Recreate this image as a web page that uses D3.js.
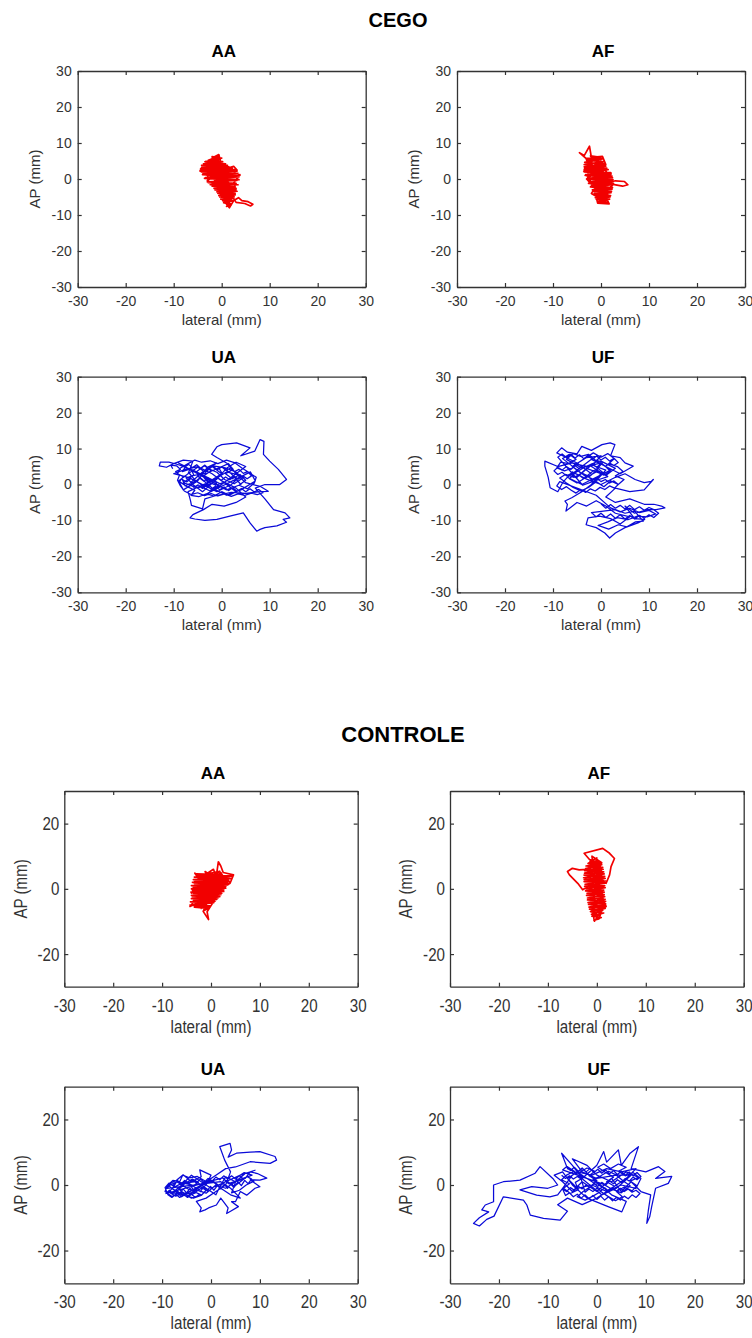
<!DOCTYPE html>
<html>
<head>
<meta charset="utf-8">
<script src="https://cdn.jsdelivr.net/npm/d3@7"></script>
<style>
  body { margin: 0; background: #fff; }
  svg { display: block; }
</style>
</head>
<body>
<svg id="chart" width="752" height="1338"></svg>
<script>
// ---- data (mm) ----
const xTicks = [-30, -20, -10, 0, 10, 20, 30];
const yTicksCego = [-30, -20, -10, 0, 10, 20, 30];
const yTicksControle = [-20, 0, 20];
const groupTitles = ['CEGO', 'CONTROLE'];
const panelTitles = ['AA', 'AF', 'UA', 'UF'];

const cegoAA = [[-1.0,1.0],[-3.5,3.8],[-0.5,5.5],[-3.8,1.5],[0.5,4.0],[-2.5,0.0],[-4.2,3.2],[-1.5,6.2],[-0.6,6.8],[0.2,2.5],[-3.0,-0.5],[-1.0,3.5],[1.5,1.0],[-2.0,-1.5],[0.8,2.8],[2.5,3.5],[3.2,2.5],[1.0,-0.5],[-1.2,-2.5],[1.8,0.5],[3.8,1.2],[2.0,-2.0],[-0.5,-4.0],[1.2,-1.0],[-2.8,1.8],[-4.5,2.2],[-3.2,4.6],[-1.8,2.6],[0.0,-1.2],[2.2,-3.5],[0.2,-5.2],[1.5,-6.5],[2.8,-4.2],[0.8,-3.0],[3.0,-1.2],[1.0,-7.0],[1.6,-8.0],[2.5,-6.0],[3.5,-5.2],[4.2,-6.0],[5.5,-6.3],[6.5,-7.0],[6.0,-7.5],[4.8,-6.8],[3.0,-6.5],[2.2,-4.8],[0.2,-2.2],[-2.2,0.8],[-3.5,2.8],[-1.2,4.8],[0.5,1.5],[-1.5,-0.5],[2.0,1.8],[0.0,3.2],[-2.5,2.0],[-0.8,0.0],[1.2,-2.0],[-0.2,-3.5],[2.5,-2.5],[1.0,-4.5],[0.0,0.5],[-3.0,3.0],[-1.0,1.5],
  [-2,6.2],[0,5.8],[-3.5,4.8],[0.8,4.2],[-4.2,3.8],[1.5,3.4],[-4.4,2.8],[2.8,2.6],[-4.3,2.0],[3.4,1.6],[-4,1.2],[3.6,0.6],[-3.6,0.2],[3.2,-0.4],[-3,-0.8],[3,-1.2],[-2.4,-1.6],[2.8,-2.2],[-1.6,-2.6],[3,-3],[-1,-3.6],[2.8,-4],[-0.6,-4.6],[2.6,-5],[-0.2,-5.6],[2.4,-6],[0.4,-6.6],[2,-7.2],[1,-7.6],[1.8,-6.8],[0.2,-6],[2.2,-5.4],[-0.4,-5],[2.8,-4.4],[-0.8,-4],[3.2,-3.4],[-1.4,-3],[3,-2.6],[-2,-2],[3.4,-1.6],[-2.8,-1.0],[3.6,-0.2],[-3.4,0.4],[3.8,1],[-3.9,1.6],[3.2,2.2],[-4.5,2.4],[2.2,3],[-4,3.4],[1.2,3.8],[-3.8,4.2],[0.2,4.8],[-2.8,5.2],[-0.5,6.4],[-1.5,5.6],[-0.8,3.6],[-2.2,1.5],[0.5,0.2],[-1.8,-0.8],[1.4,-2.4],[0.6,-4.8],[1.6,-1.2],[-0.6,1.8],[-2.6,3.8]];

const cegoAF = [[0,0],[-2,3],[-3.5,2.6],[-2.5,5],[-4.5,7.3],[-3.5,6.5],[-2.4,9.1],[-2,6],[0.3,6.3],[1,4],[-1,2],[-3,0],[-1,-3],[1,-1],[2.1,1.7],[1.5,-1],[3,-0.5],[4.9,-0.7],[5.6,-1.6],[4.5,-2],[2.5,-1.5],[1,-4],[-1,-5],[-0.7,-6.7],[1.7,-6.9],[1,-5],[-1.5,-2],[-3,1],[-1,4],[0.5,2],[-2,-1],[0,-4],[1.5,-3],[-0.5,1],[-2.5,4],[0,5],[1.5,1],[-1,-2],[-2,-4],[0.5,-6],[1.5,-4.5],[-1,0],[-3,3],[-1.5,5.5],[0.5,3.5],[-1,1],
  [-3.2,5.8],[0.3,5.6],[-3.4,4.6],[0.8,4.2],[-3.5,3.4],[1.2,3],[-3.6,2.2],[2,1.8],[-3.2,1.2],[2.3,0.8],[-2.8,0.2],[2.5,-0.2],[-2.4,-0.8],[2.6,-1.2],[-2,-1.8],[2.4,-2.4],[-1.8,-3],[2.2,-3.4],[-1.4,-4],[2,-4.6],[-1.2,-5.2],[1.8,-5.6],[-0.8,-6.2],[1.6,-6.6],[0.2,-6.8],[1.2,-6],[-1,-5.6],[1.9,-5],[-1.3,-4.4],[2.1,-3.8],[-1.6,-3.4],[2.3,-2.8],[-2.2,-2.2],[2.5,-1.6],[-2.6,-1.2],[2.6,-0.6],[-3,0],[2.4,0.4],[-3.3,1],[2.1,1.4],[-3.5,2],[1.5,2.6],[-3.4,3],[1,3.6],[-3.5,4],[0.6,4.8],[-3,5.2],[0,6],[-2.2,6.4],[-1,4.5],[-2,2.5],[0,1],[-1,-1.5],[0.8,-3],[0,-5],[-0.5,-2.5],[1,0.5],[-1.5,3]];

const cegoUA = [[0,0],[-3,2],[-6,4],[-9,5.5],[-11,6.2],[-12.8,6.2],[-13,5.2],[-11.5,4.8],[-10,5.8],[-8,6.8],[-6,6.5],[-7,3],[-9,1],[-8,-1.5],[-5,1],[-3,4.8],[-1,6],[-4,3.5],[-6.5,0.5],[-4,-2],[-1,1.5],[1,4.5],[3,6.2],[5,5],[2,2],[-1,-1],[-3,-2.5],[0,-0.5],[3,1.5],[6,3.5],[7,1],[4,-1.5],[1,-3],[-2,-1],[-5,2.5],[-2,5],[0,3],[-3,0.5],[-7,-2],[-6.5,-4.5],[-6.3,-5.8],[-4,-6.8],[-3.5,-4],[-1.5,-3.2],[2,-2.2],[5,-2.5],[8,-2],[9.7,-1.9],[8,-0.5],[5,0.5],[3,3],[1,6],[-1,7.5],[-2.1,8.4],[-1,10.5],[0,11.1],[3.1,11.6],[5.9,10.2],[4,8],[6.9,9.3],[8,12.5],[8.8,12],[8.7,8.4],[10,6.5],[11.8,4.2],[13.5,1.4],[12.1,0],[9,0],[7,-1],[9,-4],[10.8,-7],[13.2,-7.9],[14.2,-9.3],[12.8,-9.7],[13.5,-10.5],[11.5,-11.5],[9,-12],[8,-12.5],[7.3,-13],[5.9,-10.7],[4.5,-7.9],[1.7,-8.8],[-1,-9.7],[-3.5,-10],[-5.6,-9.6],[-6.6,-9.3],[-6,-8.4],[-3.8,-7],[-2,-5.5],[0.5,-6],[3,-5],[5,-3.5],[3,-1],[0,1],[-2,3],[-5,5],[-8,4],[-10,3],[-7,2],[-4,0],[-1,-2],[2,0],[4,2.5],[1,3.5],[-2,1],[-5,-1],[-8,0.5],[-6,2.5],[-3,3.2],[0,5],[2,3],[4,0],[1,-1.5],
  [-9,6],[-7.5,5],[-8.2,3.6],[-6.4,4.4],[-5.8,2.6],[-7.4,1.8],[-6.2,0.4],[-4.6,1.6],[-5.2,3.6],[-3.6,5.2],[-2.2,3.8],[-3.8,2.4],[-2.6,0.6],[-4,-0.8],[-2.4,-1.8],[-0.8,-0.4],[-1.6,1.6],[0.2,2.8],[-0.6,4.6],[1.4,5.8],[2.4,4.2],[0.8,3],[2.2,1.6],[3.8,2.8],[5,1.2],[3.6,-0.2],[5.4,-1.2],[6.8,0.4],[7.2,2],[5.6,3.4],[4.2,4.6],[2.8,6],[1,6.8],[-0.8,5.8],[-2.4,6.6],[-4.2,6.2],[-5.6,6.8],[-7,5.8],[-8.6,4.6],[-9.2,3],[-8,2.2],[-8.8,0.8],[-7.2,-0.6],[-5.6,-1.6],[-6.4,-3],[-4.8,-3.4],[-3.2,-2.6],[-1.6,-3.2],[0,-2],[1.6,-3],[3,-2],[1.8,-0.8],[0.4,0.6],[-1.2,-0.2],[-3,0.8],[-4.4,3],[-2.8,4.4],[-1,3.4],[0.6,1.4],[2.6,0.2],[4.4,1.8],[2.8,3.6],[0.8,4.6],[-1.8,5.2],[-3.4,3.4],[-5,4.8],[-6.8,3.2],[-5.4,1],[-3.6,-0.6],[-1.4,0.8],
  [-7.8,4.8],[-6.9,5.6],[-6.1,4.7],[-5.2,5.5],[-4.4,4.5],[-3.5,5.4],[-2.7,4.4],[-1.8,5.1],[-0.9,4.1],[0,4.9],[0.9,3.9],[1.8,4.6],[2.7,3.6],[3.6,4.2],[4.5,3.1],[5.4,3.6],[6.2,2.4],[5.3,1.6],[4.4,2.4],[3.5,1.5],[2.6,2.3],[1.7,1.3],[0.8,2.1],[-0.1,1.2],[-1,2],[-1.9,1],[-2.8,1.9],[-3.7,0.9],[-4.6,1.8],[-5.5,0.8],[-6.4,1.7],[-7.3,0.7],[-8.2,1.4],[-7.6,-0.4],[-6.7,0.2],[-5.8,-0.8],[-4.9,-0.1],[-4,-1.1],[-3.1,-0.3],[-2.2,-1.3],[-1.3,-0.5],[-0.4,-1.5],[0.5,-0.7],[1.4,-1.7],[2.3,-0.9],[3.2,-1.9],[4.1,-1.1],[5,-2],[5.9,-1.2],[6.8,-2.1],[7.7,-1.4],[8.6,-2.3],[7.4,-2.8],[6.2,-2.4],[4.8,-3],[3.4,-2.6],[2,-3.3],[0.6,-2.6],[-0.8,-3.2],[-2.2,-2.5],[-3.6,-3.1],[-5,-2.3],[-6.4,-2.8],[-7.8,-1.8],[-8.6,-0.4],[-9.2,1.2],[-8.8,2.6],[-9.6,3.6],[-8.6,4.2],[-9.4,5.2],[-10.6,5.4],[-10.2,4.4]];

const cegoUF = [[-2,3],[-5,6],[-8,8],[-9.2,8.8],[-8.2,10.2],[-7,9],[-5,8.5],[-4,10.6],[-2,9.5],[0.2,11.1],[1.9,11.6],[2.9,11.1],[2,8],[4,7.5],[5,6],[6.7,5.1],[4,3],[1,5],[-2,7],[-5,4],[-7,2],[-4,0],[-1,2],[2,4],[0,6],[-3,5],[-6,6],[-9,5],[-11.7,6.5],[-11.7,5.1],[-11,2],[-10.6,-0.9],[-9,-2],[-8,0.5],[-6,3.5],[-3,1.5],[0,0],[3,2],[5,3],[7.1,1.4],[9,0.5],[10.5,0.9],[10.9,1.4],[9,-1.5],[6,-2],[3,-1],[1,-3.5],[3,-5],[6,-4],[9,-5.5],[11,-5.5],[12.6,-6],[13.3,-6.5],[11.5,-7],[9.8,-7],[7,-8],[5,-6],[7,-9.5],[9.1,-9.7],[7.7,-10.7],[5,-12],[3,-13.5],[1.8,-14.9],[0.8,-13.5],[-1,-12],[-3.1,-11.2],[-2.7,-9.3],[-0.3,-8.8],[2,-9.5],[4,-11],[6,-9],[3,-8],[1,-6],[-1,-4.5],[-3,-6],[-5,-5],[-7.3,-7.4],[-7,-5.5],[-7.5,-4.6],[-6.1,-3.7],[-4,-2],[-2,0],[0,3],[-3,4.5],[-5,2],[-2,5.5],[1,4],[-1,1],[-4,3],[-6,5],[-3,7.5],[0,8],[-2,5],[1,2.5],[3,4.5],[0,6.5],[-1,3.5],[-3,2],
  [-8,7.2],[-6.6,8.4],[-5.2,7],[-6.8,5.8],[-8.4,6.2],[-9.2,4.6],[-7.6,3.8],[-6,4.6],[-4.6,6.2],[-3,7.6],[-1.6,8.8],[0,7.6],[1.4,8.6],[2.8,7.2],[1.6,5.8],[3.4,5],[4.6,3.6],[3,2.4],[4.8,1.4],[3.6,0],[2,1],[0.6,-0.6],[-1,0.8],[-2.6,-0.8],[-4.2,-1.8],[-5.8,-0.8],[-7.2,0.4],[-8.6,1.8],[-7.4,2.8],[-5.6,2],[-4,3.2],[-2.4,2.2],[-1,3.8],[0.6,2.6],[2,3.6],[0.8,5.2],[-0.8,6.4],[-2.4,5.4],[-4,4.6],[-5.6,5.8],[-7.2,7],[-5.8,8.6],[-4.2,7.8],[-2.6,8.4],[-1.2,6.8],[0.4,6.2],[-0.6,4.6],[-2,3.4],[-3.6,1.6],[-5,0.4],[-6.6,1.6],[-5.2,3.4],[-3.4,4.8],[-1.8,5.8],[-0.2,4],[1.4,2.2],[-0.4,1.4],[-2.2,0.6],[-3.8,-0.2],
  [-9,7.6],[-8.1,8.5],[-7.2,7.5],[-6.3,8.4],[-5.4,7.4],[-4.5,8.3],[-3.6,7.2],[-2.7,8.1],[-1.8,7],[-0.9,7.9],[0,6.8],[0.9,7.6],[1.8,6.5],[2.7,7.3],[3.6,6.1],[2.7,5.3],[1.8,6],[0.9,5],[0,5.8],[-0.9,4.8],[-1.8,5.6],[-2.7,4.6],[-3.6,5.4],[-4.5,4.4],[-5.4,5.2],[-6.3,4.2],[-7.2,5],[-8.1,4],[-9,4.8],[-9.8,3.8],[-9,2.8],[-8.1,3.4],[-7.2,2.4],[-6.3,3],[-5.4,2],[-4.5,2.6],[-3.6,1.6],[-2.7,2.2],[-1.8,1.2],[-0.9,1.8],[0,0.8],[0.9,1.4],[1.8,0.4],[2.7,1],[3.6,0],[2.8,-1],[1.8,-0.4],[0.8,-1.4],[-0.2,-0.8],[-1.2,-1.8],[-2.2,-1.2],[-3.2,-2.2],[-4.2,-1.4],[-5.2,-2.4],[-6.2,-1.6],[-7.2,-0.6],[-8.2,-1.4],[-9.2,-0.4],[-8.6,0.8],
  [-1,-3],[2,-6.5],[4,-7.6],[6,-6.6],[8,-7.8],[10,-7.2],[11.4,-8.2],[9.6,-9],[7.6,-8.8],[5.6,-9.8],[3.4,-9.2],[1.4,-10.4],[-0.6,-11.4],[1.6,-12.4],[3.6,-11.2],[5.4,-11.8],[7.2,-10.4],[8.8,-10.2],[7,-7.4],[5,-8],[3,-7],
  [-2,-7.8],[-1,-9],[0,-8],[1,-9.2],[2,-8.2],[3,-9.4],[4,-8.4],[5,-9.6],[6,-8.6],[7,-9.6],[8,-8.6],[9,-9.4],[10,-8.4],[11,-9.2],[12,-8],[11,-7],[10,-6.4],[9,-7.2],[8,-6.2],[7,-7],[6,-5.8],[5,-6.8],[4,-5.8],[3,-6.6],[2,-5.6],[1,-6.6],[0,-5.4]];

const controleAA = [[0,0],[-2,3],[-3.3,4.8],[-2,2],[-4,-1.3],[-1,1],[1,3],[1.5,8.3],[2,7],[2.5,5],[4.6,4.3],[3.9,1.7],[2,0],[-1,-3],[-4.3,-5.4],[-3,-3],[-1,-5],[-1.6,-6.9],[-0.5,-9.4],[-0.8,-7],[0.5,-4],[-2,-2],[-4,0],[-2,1],[0,4],[-1.2,5.3],[-0.5,3],[1,1],[3,2.5],[2,5],[0,2],[-3,-1],[-2,-4],[0,-2],[2,1],[-1,-1],[-3.5,2],[-1.5,4],[0.5,6],[1,4],[3,3.5],[1,-1],[-2,-5],[-3.5,-4],[-1,-2.5],[1.5,-1],[-0.5,1.5],[-2.5,0.5],[-3.5,-2.5],[-2,-6],[0,-3.5],[2.5,-0.5],[3.5,3],[1.5,2],[-1,4],[-2.5,3],[-1,0],
  [-3,4.6],[2.2,4.4],[-3.4,3.6],[3.8,3.8],[-3.6,2.8],[3.6,2.6],[-3.8,2],[3.4,1.6],[-4,1],[3,0.6],[-4,0],[2.6,-0.4],[-4.1,-1],[2.2,-1.4],[-4,-2],[1.8,-2.4],[-4,-3],[1.2,-3.2],[-4.2,-4],[0.6,-4.2],[-4.3,-5],[0,-5.2],[-3.4,-5.6],[-0.6,-6],[-1.4,-6.6],[-0.4,-5.6],[-3,-4.6],[0.8,-3.8],[-3.6,-3.6],[1.4,-2.8],[-3.8,-2.4],[2,-1.8],[-3.6,-1.4],[2.6,-0.8],[-3.8,-0.4],[3,0.2],[-3.6,0.6],[3.4,1.2],[-3.4,1.6],[3.8,2.2],[-3,2.4],[4.2,3.2],[-2.6,3.2],[4.4,4],[-2.8,4],[1.8,5.4],[0.6,4],[-1.5,2.5],[0.5,0.5],[-2,-1.5],[-0.5,-3.5],[-2.5,-3]];

const controleAF = [[0,0],[-1,5],[0.5,8],[-1.5,9],[-2.6,10.9],[1.2,12.4],[2.6,10.9],[3.6,9.3],[2.9,6.8],[2.6,4.3],[1.9,1.7],[1,3],[0,7],[-1,2],[0.5,-3],[-1,-6],[-0.5,-9.9],[0.2,-8.4],[1.2,-6],[1.9,-5.4],[1,-2],[-1.5,3],[-2,6],[-3.6,5.8],[-5,6.3],[-6,5.3],[-5.6,4.3],[-3.9,1.7],[-2.9,-0.3],[-1.5,1],[1,5],[0,9],[-1.5,6],[0.5,1],[-1,-3],[0.8,-7],[-0.3,-5],[1.2,-1],[-0.5,3],[1,8],[-1,10],[-0.5,4],[0.8,-2],[-1.2,-7],[0.5,-9],[1.5,-4],[-1,0],[1,4],[-0.5,7],
  [-1.4,8.4],[0.8,8],[-2.2,7],[1.2,6.6],[-2.5,5.6],[1.4,5.2],[-2.6,4.2],[1.6,3.8],[-2.6,2.8],[1.8,2.4],[-2.4,1.4],[1.6,1],[-2.2,0],[1.4,-0.4],[-2,-1.4],[1.5,-1.8],[-1.9,-2.8],[1.7,-3.2],[-1.8,-4.2],[1.8,-4.6],[-1.6,-5.6],[1.7,-6],[-1.3,-7],[1.4,-7.4],[-1,-8.4],[0.9,-8.8],[-0.6,-9.6],[0.4,-9.2],[-1.1,-7.8],[1.2,-6.6],[-1.5,-6.2],[1.6,-5.2],[-1.7,-4.8],[1.8,-3.8],[-1.9,-3.4],[1.6,-2.4],[-2.1,-2],[1.5,-1],[-2.3,-0.6],[1.7,0.4],[-2.5,0.8],[1.8,1.8],[-2.6,2.2],[1.7,3.2],[-2.7,3.4],[1.5,4.6],[-2.5,4.8],[1.3,6],[-2.3,6.2],[1,7.4],[-1.8,7.8],[0,9.5],[-0.5,6],[0.5,2],[-0.8,-2],[0.3,-6],[-0.2,-8]];

const controleUA = [[-4,0],[-7,1],[-9,-0.5],[-9.4,-2],[-8,-3.5],[-6,-2],[-4,-4],[-2,-3],[-5,-1],[-7,1.5],[-5.7,3.1],[-4,1],[-2,2.5],[-2.3,4.6],[0,3],[-1,0],[-3,-2],[-6,-3],[-8,-1],[-6,0.5],[-3,1],[-1,-1],[1,-3],[2,0],[3,2.5],[5,1],[7,2],[8,4],[9.5,3.5],[11.4,2.1],[10,1.5],[8,1.6],[10,-0.5],[9,-1],[7.3,-3.1],[6,-2],[5,-5.1],[4.2,-5.1],[5.6,-6.6],[4,-8],[3.2,-8.7],[3.5,-7],[2,-4],[1.1,-6.1],[-0.5,-7],[-1.2,-7.6],[-2.3,-8.2],[-2,-7],[-3,-5],[-1,-4],[1,-2],[3,0],[4,4],[2.8,7.6],[1.8,11.7],[3.9,12.7],[4.2,10.7],[3.5,8.5],[5.2,9.7],[8,10],[10,10.2],[13.1,8.7],[13.4,7.6],[12.1,6.6],[8,7.1],[5,5.5],[3,5],[1,3],[-1,1],[-3,-1],[-5,1],[-7,-2],[-5,-3.5],[-3,-1.5],[-1,-2.5],[1,0],[3,-1],[5,1],[7,3.5],[9,4.5],[6,3],[3,1],[0,-1],[-2,1],[-4,3],[-6,0],[-8,-2.5],[-5,-2.5],[-2,0],[0,1.5],[2,-1],[4,-3],[6,-4],[4,-1],[2,1],
  [-9,-1],[-8.2,0.6],[-6.8,1.6],[-7.6,-0.4],[-8.6,-2.2],[-7.2,-3.4],[-5.8,-2.4],[-6.6,-1],[-5.2,0.6],[-3.8,1.8],[-2.6,0.8],[-4,-0.6],[-3.2,-2.4],[-4.8,-3.4],[-3.6,-4],[-2,-3.2],[-1,-1.6],[-2.4,-0.4],[-1.2,1.2],[-2.8,2.6],[-4.4,2.2],[-5.8,3],[-6.4,1],[-7.8,1.4],[-8.8,0],[-7.4,-1.8],[-6,-3.6],[-4.4,-2],[-2.8,-1.2],[-1.4,0.2],[0.4,1.2],[1.8,-0.4],[3.2,1.4],[4.6,-0.6],[6,1],[7.4,2.6],[8.8,1.2],[7.2,0],[5.8,-1.6],[4.2,-2.4],[5.4,2.4],[6.8,3.8],[8.4,3],[3.6,0.4],[2.4,2.2],
  [-9.2,-2.6],[-8.5,-1.6],[-7.8,-2.6],[-7.1,-1.4],[-6.4,-2.6],[-5.7,-1.2],[-5,-2.4],[-4.3,-1],[-3.6,-2.2],[-2.9,-0.8],[-2.2,-2],[-1.5,-0.6],[-0.8,-1.8],[-0.1,-0.4],[0.6,-1.6],[1.3,-0.2],[2,-1.2],[2.7,0.2],[3.4,-1],[4.1,0.6],[4.8,-0.6],[5.5,1],[6.2,-0.2],[6.9,1.4],[7.6,0.4],[8.3,1.8],[7.4,2.6],[6.6,1.8],[5.8,2.8],[5,1.8],[4.2,2.8],[3.4,1.8],[2.6,2.8],[1.8,1.6],[1,2.4],[0.2,1.2],[-0.6,2],[-1.4,0.8],[-2.2,1.8],[-3,0.6],[-3.8,1.6],[-4.6,0.4],[-5.4,1.4],[-6.2,0.2],[-7,1],[-7.8,-0.2],[-8.6,0.6],[-9.4,-0.8],[-8.8,-3],[-8,-3.8],[-7.2,-2.8],[-6.4,-3.8],[-5.6,-2.8],[-4.8,-3.8],[-4,-2.8],[-3.2,-3.8],[-2.4,-2.8]];

const controleUF = [[0,0],[-3,3],[-6,5],[-7.2,9.7],[-5,6],[-3,2],[0,6],[1.4,10.2],[2,7],[4.4,10.7],[5,6],[6.8,9.7],[8.5,11.7],[7,5],[10,4],[12.6,5.6],[13.9,4.1],[12,2],[15.3,2.6],[14.6,0.5],[12,-1],[11.2,-6.6],[10.8,-9.7],[10.2,-11.7],[10.5,-8],[11,-3],[9,-2],[7,1],[5,-2],[3,2],[0,-2],[-3,1],[-5,-2],[-7,1],[-8.7,3],[-7,4],[-5,0],[-2,-4],[2.3,-6.6],[5.1,-8.2],[6,-5],[3,-3],[0,1],[-3,5],[-5,3],[-7,-1],[-8,-3],[-9.6,-3.6],[-12.3,-3.1],[-15.7,-1.5],[-13.3,-0.5],[-10,-1],[-8,0],[-9,2],[-11.6,5.6],[-12.6,3.6],[-15.7,1.5],[-19.1,1],[-21.1,0],[-21.1,-2.6],[-21.1,-5.1],[-22.8,-6.1],[-23.5,-7.6],[-22.1,-8.2],[-24,-10],[-25.2,-11.7],[-24,-12.5],[-22.5,-10.5],[-21,-9.5],[-19.1,-3.6],[-15,-4.6],[-14.3,-6.1],[-13.6,-9.2],[-10.9,-10.2],[-7.5,-10.7],[-6,-8],[-8,-6],[-6,-4],[-3,-6],[0,-4],[3,-1],[6,2],[8,5],[5,4],[2,5],[-1,3],[-4,4],[-6,2],[-4,-1],[-1,0],[2,-2],[5,0],[8,-1],[9,2],[6,4],[3,1],[0,3],[-2,6],[-5,8],[-3,4],[0,2],[4,3],[7,3],[4,-1],[1,-3],
  [-6,5.6],[-4.6,4.2],[-6.2,3],[-7.2,1.6],[-5.6,0.4],[-6.8,-1],[-5.4,-2.6],[-3.8,-1.4],[-4.4,0.8],[-2.8,2.2],[-3.6,3.8],[-2,5.2],[-0.4,4.2],[-1.6,2.8],[0,1.4],[-1.2,-0.4],[-2.8,-2],[-4,-3.6],[-2.4,-4.6],[-0.8,-3.4],[0.8,-2],[2.2,-3.4],[3.8,-4.8],[5.2,-3.6],[4,-2],[5.6,-0.6],[7.2,-1.8],[8.2,-0.2],[6.8,1.2],[8.6,2.4],[7.4,3.8],[5.8,2.8],[4.4,4.2],[6,5.4],[4.4,6.4],[2.8,5],[1.4,6.4],[0.2,5.4],[1.8,3.8],[3.4,2.4],[2,1],[3.6,-0.4],[2.2,-1.6],[0.6,-0.2],[-0.8,1.6],[0.8,2.8],[2.4,4.2],[4,3],[5.4,1.2],[6.8,-0.2],[5,-2.4],[3,-1.2],[1.4,0.2],
  [-7,4.6],[-6.2,5.6],[-5.4,4.4],[-4.6,5.4],[-3.8,4.2],[-3,5.2],[-2.2,4],[-1.4,5],[-0.6,3.8],[0.2,4.8],[1,3.6],[1.8,4.6],[2.6,3.4],[3.4,4.4],[4.2,3.2],[5,4.2],[5.8,3],[6.6,4],[7.4,2.8],[8.2,3.8],[9,2.6],[8.2,1.6],[7.4,2.4],[6.6,1.2],[5.8,2],[5,0.8],[4.2,1.6],[3.4,0.4],[2.6,1.2],[1.8,0],[1,0.8],[0.2,-0.4],[-0.6,0.4],[-1.4,-0.8],[-2.2,0],[-3,-1.2],[-3.8,-0.4],[-4.6,-1.6],[-5.4,-0.8],[-6.2,-2],[-7,-1.2],[-6.4,-3.2],[-5.6,-2.4],[-4.8,-3.6],[-4,-2.8],[-3.2,-4],[-2.4,-3],[-1.6,-4.2],[-0.8,-3.2],[0,-4.4],[0.8,-3.4],[1.6,-4.6],[2.4,-3.6],[3.2,-4.8],[4,-3.8],[4.8,-4.6],[5.6,-3.4],[6.4,-4.2],[7.2,-3],[8,-3.8],[8.8,-2.6],[8,-1.6],[7.2,-2.2],[6.4,-1.2],[5.6,-2],[4.8,-1],[4,-1.8],[3.2,-0.8],[2.4,-1.8],[1.6,-0.8],[0.8,-1.8],[0,-1],[-0.8,-2],[-1.6,-1.2],[-2.4,-2.2],[-3.2,1.8],[-4,2.6],[-4.8,1.8],[-5.6,2.8],[-6.4,2],[-7.2,3]];

// ---- layout ----
const svg = d3.select('#chart');
const red = '#f20000';
const blue = '#0a0ad8';
const axisColor = '#333';

const cegoStyle = {
  font: '"Liberation Sans", Arial, sans-serif', size: 14, labelSize: 15, squeeze: 1,
  yTicks: yTicksCego, xPad: 9, yPad: 6, xLabelDy: 38, yLabelDx: 43, titleDy: 14
};
// the lower block uses a narrow face: Liberation Sans squeezed horizontally
const controleStyle = {
  font: '"Liberation Sans", Arial, sans-serif', size: 18.5, labelSize: 18.5, squeeze: 0.82,
  yTicks: yTicksControle, xPad: 12, yPad: 5, xLabelDy: 46, yLabelDx: 44, titleDy: 12
};

const panels = [
  { title: panelTitles[0], data: cegoAA, color: red,  left: 77.7, right: 365.7, top: 71,    bottom: 287,    st: cegoStyle },
  { title: panelTitles[1], data: cegoAF, color: red,  left: 457,  right: 745,   top: 71,    bottom: 287,    st: cegoStyle },
  { title: panelTitles[2], data: cegoUA, color: blue, left: 77.7, right: 365.7, top: 376.7, bottom: 592.3,  st: cegoStyle },
  { title: panelTitles[3], data: cegoUF, color: blue, left: 457,  right: 745,   top: 376.7, bottom: 592.3,  st: cegoStyle },
  { title: panelTitles[0], data: controleAA, color: red,  left: 64.3, right: 357.7, top: 791,    bottom: 986.7,  st: controleStyle },
  { title: panelTitles[1], data: controleAF, color: red,  left: 450,  right: 743.7, top: 791,    bottom: 986.7,  st: controleStyle },
  { title: panelTitles[2], data: controleUA, color: blue, left: 64.3, right: 357.7, top: 1086.7, bottom: 1283.3, st: controleStyle },
  { title: panelTitles[3], data: controleUF, color: blue, left: 450,  right: 743.7, top: 1086.7, bottom: 1283.3, st: controleStyle }
];

// group headings
svg.append('text')
    .attr('x', 398).attr('y', 27)
    .attr('text-anchor', 'middle')
    .style('font', 'bold 20px "Liberation Sans", Arial, sans-serif')
    .text(groupTitles[0]);
svg.append('text')
    .attr('x', 403).attr('y', 742)
    .attr('text-anchor', 'middle')
    .style('font', 'bold 22px "Liberation Sans", Arial, sans-serif')
    .text(groupTitles[1]);

function styleAxis(g, st) {
  g.select('.domain').attr('stroke', axisColor).attr('stroke-width', 1.3);
  g.selectAll('.tick line').attr('stroke', axisColor).attr('stroke-width', 1.2);
  g.selectAll('.tick text')
      .attr('fill', axisColor)
      .style('font-family', st.font)
      .style('font-size', st.size + 'px')
      .each(function() {
        if (st.squeeze === 1) return;
        const t = d3.select(this);
        const x0 = +t.attr('x') || 0;
        t.attr('x', x0 / st.squeeze).attr('transform', `scale(${st.squeeze},1)`);
      });
}

const fmt = d => String(d);

panels.forEach(p => {
  const st = p.st;
  const x = d3.scaleLinear().domain([-30, 30]).range([p.left, p.right]);
  const y = d3.scaleLinear().domain([-30, 30]).range([p.bottom, p.top]);
  const g = svg.append('g');

  // trace
  const line = d3.line().x(d => x(d[0])).y(d => y(d[1]));
  g.append('path')
      .datum(p.data)
      .attr('d', line)
      .attr('fill', 'none')
      .attr('stroke', p.color)
      .attr('stroke-width', p.color === red ? 1.7 : 1.25)
      .attr('stroke-linejoin', 'round');

  // box with inward ticks
  const bottomAxis = g.append('g')
      .attr('transform', `translate(0,${p.bottom})`)
      .call(d3.axisBottom(x).tickValues(xTicks).tickFormat(fmt).tickSizeInner(-4).tickSizeOuter(0).tickPadding(st.xPad));
  styleAxis(bottomAxis, st);

  const topAxis = g.append('g')
      .attr('transform', `translate(0,${p.top})`)
      .call(d3.axisTop(x).tickValues(xTicks).tickSizeInner(-4).tickSizeOuter(0).tickFormat(''));
  styleAxis(topAxis, st);

  const leftAxis = g.append('g')
      .attr('transform', `translate(${p.left},0)`)
      .call(d3.axisLeft(y).tickValues(st.yTicks).tickFormat(fmt).tickSizeInner(-4).tickSizeOuter(0).tickPadding(st.yPad));
  styleAxis(leftAxis, st);

  const rightAxis = g.append('g')
      .attr('transform', `translate(${p.right},0)`)
      .call(d3.axisRight(y).tickValues(st.yTicks).tickSizeInner(-4).tickSizeOuter(0).tickFormat(''));
  styleAxis(rightAxis, st);

  // labels
  g.append('text')
      .attr('transform', `translate(${(p.left + p.right) / 2},${p.bottom + st.xLabelDy}) scale(${st.squeeze},1)`)
      .attr('text-anchor', 'middle')
      .attr('fill', axisColor)
      .style('font-family', st.font)
      .style('font-size', st.labelSize + 'px')
      .text('lateral (mm)');

  g.append('text')
      .attr('transform', `translate(${p.left - st.yLabelDx},${(p.top + p.bottom) / 2}) rotate(-90) scale(${st.squeeze},1)`)
      .attr('text-anchor', 'middle')
      .attr('dy', '0.35em')
      .attr('fill', axisColor)
      .style('font-family', st.font)
      .style('font-size', st.labelSize + 'px')
      .text('AP (mm)');

  g.append('text')
      .attr('x', (p.left + p.right) / 2 + 2)
      .attr('y', p.top - st.titleDy)
      .attr('text-anchor', 'middle')
      .style('font', 'bold 17px "Liberation Sans", Arial, sans-serif')
      .text(p.title);
});
</script>
</body>
</html>
